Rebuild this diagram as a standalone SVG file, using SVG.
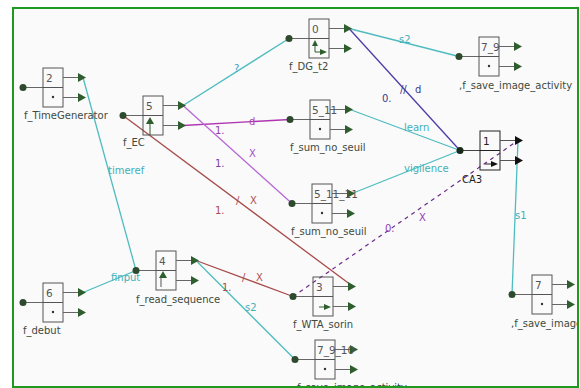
<svg xmlns="http://www.w3.org/2000/svg" xmlns:xlink="http://www.w3.org/1999/xlink" width="580" height="388" viewBox="0 0 580 388">
<style>
.lbl{font-family:"DejaVu Sans",sans-serif;font-size:10px;fill:#3d4a3d}
.num{font-family:"DejaVu Sans",sans-serif;font-size:10.5px;fill:#555}
.cl{font-family:"DejaVu Sans",sans-serif;font-size:10px}
.cy{stroke:#4fbcc0;stroke-width:1.3;fill:none}
.box{fill:none;stroke:#555;stroke-width:1}
.port{stroke:#666;stroke-width:1}
.tri{fill:#2e5e2e}
.dot{fill:#2e4a2e}
</style>
<defs>
<clipPath id="frame" clipPathUnits="userSpaceOnUse"><rect x="13" y="8" width="565" height="379"/></clipPath>
<g id="nodeShape">
<line class="port" x1="-20" y1="19.5" x2="0" y2="19.5"/>
<circle class="dot" cx="-20" cy="19.5" r="3.5"/>
<rect class="box" x="0" y="0" width="20" height="39"/>
<line class="box" x1="0" y1="19.5" x2="20" y2="19.5"/>
<line class="port" x1="20" y1="9.5" x2="36" y2="9.5"/>
<path class="tri" d="M35,5 L43,9.5 L35,14 Z"/>
<line class="port" x1="20" y1="29.5" x2="36" y2="29.5"/>
<path class="tri" d="M35,25 L43,29.5 L35,34 Z"/>
</g>
</defs>
<rect x="0" y="0" width="580" height="388" fill="#ffffff"/>
<rect x="13" y="8" width="565" height="379" fill="#fafafa"/>

<g id="connectors">
<line class="cy" x1="83" y1="77.5" x2="136" y2="270.5"/>
<line class="cy" x1="83" y1="292.5" x2="136" y2="270.5"/>
<line class="cy" x1="183" y1="105.5" x2="289" y2="38.5"/>
<line x1="183" y1="125.5" x2="290" y2="119.5" stroke="#b035b0" stroke-width="1.3"/>
<line x1="183" y1="105.5" x2="292" y2="203.5" stroke="#b866d6" stroke-width="1.3"/>
<line x1="123" y1="115.5" x2="353" y2="286.5" stroke="#a84c4c" stroke-width="1.3"/>
<line x1="196" y1="260.5" x2="293" y2="296.5" stroke="#a84c4c" stroke-width="1.3"/>
<line class="cy" x1="196" y1="260.5" x2="295" y2="359.5"/>
<line class="cy" x1="349" y1="28.5" x2="459" y2="56.5"/>
<line x1="349" y1="28.5" x2="460" y2="150.5" stroke="#4b3ea8" stroke-width="1.3"/>
<line class="cy" x1="350" y1="109.5" x2="460" y2="150.5"/>
<line class="cy" x1="352" y1="193.5" x2="460" y2="150.5"/>
<line x1="293" y1="296.5" x2="518" y2="140.5" stroke="#6a2a8a" stroke-width="1.2" stroke-dasharray="4,4"/>
<line class="cy" x1="518" y1="140.5" x2="512" y2="294.5"/>

<text class="cl" x="108" y="174" fill="#3fb0b8">timeref</text>
<text class="cl" x="111" y="281" fill="#3fb0b8">finput</text>
<text class="cl" x="234" y="72" fill="#3a9ac8">?</text>
<text class="cl" x="249" y="125" fill="#b040b0">d</text>
<text class="cl" x="215" y="134" fill="#9040b0">1.</text>
<text class="cl" x="249" y="157" fill="#a050c8">X</text>
<text class="cl" x="215" y="167" fill="#8040a0">1.</text>
<text class="cl" x="215" y="214" fill="#a84c4c">1.</text>
<text class="cl" x="236" y="204" fill="#a84c4c">/</text>
<text class="cl" x="250" y="204" fill="#b05050">X</text>
<text class="cl" x="222" y="291" fill="#a84c4c">1.</text>
<text class="cl" x="242" y="281" fill="#a84c4c">/</text>
<text class="cl" x="256" y="281" fill="#b05050">X</text>
<text class="cl" x="245" y="311" fill="#3fb0b8">s2</text>
<text class="cl" x="399" y="43" fill="#3fb0b8">s2</text>
<text class="cl" x="382" y="102" fill="#3a3a8a">0.</text>
<text class="cl" x="400" y="93" fill="#3a3a8a">//</text>
<text class="cl" x="415" y="93" fill="#3a3a8a">d</text>
<text class="cl" x="404" y="131" fill="#3fb0b8">learn</text>
<text class="cl" x="404" y="172" fill="#3fb0b8">vigilence</text>
<text class="cl" x="385" y="232" fill="#9040b0">0.</text>
<text class="cl" x="419" y="221" fill="#9040b0">X</text>
<text class="cl" x="515" y="219" fill="#3fb0b8">s1</text>
</g>

<g id="n2" transform="translate(43,68)">
<use xlink:href="#nodeShape"/>
<text class="num" x="3" y="14">2</text>
<circle cx="10" cy="29" r="1.2" fill="#333"/>
<text class="lbl" x="-19" y="51">f_TimeGenerator</text>
</g>

<g id="n5" transform="translate(143,96)">
<use xlink:href="#nodeShape"/>
<text class="num" x="3" y="14">5</text>
<line x1="7" y1="26" x2="7" y2="39" stroke="#2e5e2e" stroke-width="1"/>
<path d="M3,28 L7,21 L11,28 Z" fill="#2e5e2e"/>
<text class="lbl" x="-20" y="50">f_EC</text>
</g>

<g id="n0" transform="translate(309,19)">
<use xlink:href="#nodeShape"/>
<text class="num" x="3" y="14">0</text>
<path d="M6,27 L6,33 L12,33" fill="none" stroke="#2e5e2e" stroke-width="1"/>
<path d="M3,27 L6,21 L9,27 Z" fill="#2e5e2e"/>
<path d="M11,30 L18,33 L11,36 Z" fill="#2e5e2e"/>
<text class="lbl" x="-20" y="51">f_DG_t2</text>
</g>

<g id="n5_11" transform="translate(310,100)">
<use xlink:href="#nodeShape"/>
<text class="num" x="2" y="14">5_11</text>
<circle cx="10" cy="29" r="1.2" fill="#333"/>
<text class="lbl" x="-20" y="51">f_sum_no_seuil</text>
</g>

<g id="n5_11_11" transform="translate(312,184)">
<use xlink:href="#nodeShape"/>
<text class="num" x="2" y="14">5_11_11</text>
<circle cx="10" cy="29" r="1.2" fill="#333"/>
<text class="lbl" x="-21" y="51">f_sum_no_seuil</text>
</g>

<g id="n7_9" transform="translate(479,37)">
<use xlink:href="#nodeShape"/>
<text class="num" x="2" y="14">7_9</text>
<circle cx="10" cy="29" r="1.2" fill="#333"/>
<text class="lbl" x="-20" y="52">,f_save_image_activity</text>
</g>

<g id="n1" transform="translate(480,131)">
<line x1="-20" y1="19.5" x2="0" y2="19.5" stroke="#444" stroke-width="1"/>
<circle cx="-20" cy="19.5" r="3.5" fill="#1a2a1a"/>
<rect x="0" y="0" width="20" height="39" fill="none" stroke="#222" stroke-width="1"/>
<line x1="0" y1="19.5" x2="20" y2="19.5" stroke="#222" stroke-width="1"/>
<line x1="20" y1="9.5" x2="36" y2="9.5" stroke="#555" stroke-width="1"/>
<path d="M35,5 L43,9.5 L35,14 Z" fill="#111"/>
<line x1="20" y1="29.5" x2="36" y2="29.5" stroke="#555" stroke-width="1"/>
<path d="M35,25 L43,29.5 L35,34 Z" fill="#111"/>
<text x="3" y="14" font-family="DejaVu Sans,sans-serif" font-size="10.5" fill="#222">1</text>
<line x1="5" y1="33" x2="12" y2="33" stroke="#222" stroke-width="1"/>
<path d="M11,30 L18,33 L11,36 Z" fill="#111"/>
<text x="-18" y="52" font-family="DejaVu Sans,sans-serif" font-size="10" fill="#222">CA3</text>
</g>

<g id="n6" transform="translate(43,283)">
<use xlink:href="#nodeShape"/>
<text class="num" x="3" y="14">6</text>
<circle cx="10" cy="29" r="1.2" fill="#333"/>
<text class="lbl" x="-20" y="51">f_debut</text>
</g>

<g id="n4" transform="translate(156,251)">
<use xlink:href="#nodeShape"/>
<text class="num" x="3" y="14">4</text>
<line x1="5" y1="26" x2="5" y2="36" stroke="#555" stroke-width="1"/>
<path d="M3,27 L7,20 L11,27 Z" fill="#2e5e2e"/>
<text class="lbl" x="-20" y="52">f_read_sequence</text>
</g>

<g id="n3" transform="translate(313,277)">
<use xlink:href="#nodeShape"/>
<text class="num" x="3" y="14">3</text>
<line x1="6" y1="30" x2="12" y2="30" stroke="#2e5e2e" stroke-width="1"/>
<path d="M11,27 L18,30 L11,33 Z" fill="#2e5e2e"/>
<text class="lbl" x="-20" y="51">f_WTA_sorin</text>
</g>

<g id="n7_9_10">
<use xlink:href="#nodeShape" x="315" y="340"/>
<text class="num" x="317" y="354">7_9_10</text>
<circle cx="325" cy="369" r="1.2" fill="#333"/>
<text class="lbl" x="297" y="391">f_save_image_activity</text>
</g>

<g id="n7">
<use xlink:href="#nodeShape" x="532" y="275"/>
<text class="num" x="535" y="289">7</text>
<circle cx="542" cy="304" r="1.2" fill="#333"/>
<text class="lbl" x="511" y="327" clip-path="url(#frame)">,f_save_image_activity</text>
</g>

<rect x="13" y="8" width="565" height="379" fill="none" stroke="#1e9a1e" stroke-width="2"/>
</svg>
